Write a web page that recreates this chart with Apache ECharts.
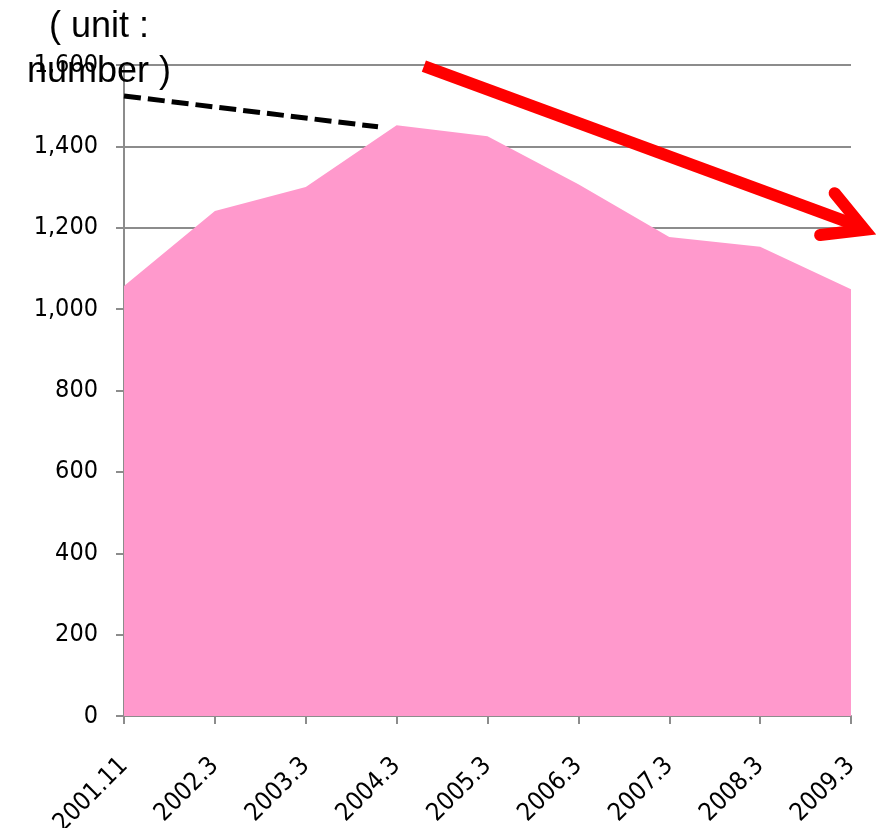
<!DOCTYPE html>
<html><head><meta charset="utf-8">
<script src="https://cdn.jsdelivr.net/npm/echarts@6/dist/echarts.min.js"></script>
<style>html,body{margin:0;padding:0;background:#fff}#c{width:879px;height:828px}</style>
</head><body><div id="c"></div>
<script>
const categories = ['2001.11','2002.3','2003.3','2004.3','2005.3','2006.3','2007.3','2008.3','2009.3'];
const counts = [1057, 1241, 1300, 1452, 1425, 1307, 1177, 1153, 1049];
const yTicks = {min: 0, max: 1600, interval: 200};
const unitLabel = '( unit :\nnumber )';
// annotation lines: [position along category axis (0..8), value]
const dashedTrend = [[0, 1524], [2.795, 1448]];
const arrowShaft = [[3.30, 1597], [8.10, 1203]];
const arrowHead = [[7.82, 1285], [8.15, 1195], [7.66, 1182]];

const tickFont = '"DejaVu Sans Condensed", "DejaVu Sans", sans-serif';
const chart = echarts.init(document.getElementById('c'));
chart.setOption({
  animation: false,
  title: {
    text: unitLabel, left: 94, top: 0, textAlign: 'center',
    textStyle: {fontFamily: '"Liberation Sans", Arial, sans-serif', fontSize: 36, lineHeight: 45, fontWeight: 'normal', color: '#000'}
  },
  grid: {left: 124, right: 28, top: 65, bottom: 112, containLabel: false, outerBoundsMode: 'none'},
  xAxis: [{
    type: 'category', data: categories, boundaryGap: false,
    axisLine: {lineStyle: {color: '#8c8c8c', width: 2}},
    axisTick: {show: true, length: 8, lineStyle: {color: '#8c8c8c', width: 2}},
    axisLabel: {rotate: 45, fontFamily: tickFont, fontSize: 25, color: '#000', margin: 46, interval: 0},
    splitLine: {show: false}
  }, {
    type: 'value', min: 0, max: 8, show: false
  }],
  yAxis: {
    type: 'value', min: yTicks.min, max: yTicks.max, interval: yTicks.interval,
    axisLine: {show: true, lineStyle: {color: '#8c8c8c', width: 2}},
    axisTick: {show: true, length: 8, lineStyle: {color: '#8c8c8c', width: 2}},
    axisLabel: {fontFamily: tickFont, fontSize: 25, color: '#000', margin: 26,
      formatter: v => v.toLocaleString('en-US')},
    splitLine: {show: true, lineStyle: {color: '#8c8c8c', width: 2}}
  },
  series: [{
    type: 'line', data: counts, symbol: 'none',
    lineStyle: {width: 0, color: '#FF99CC'},
    areaStyle: {color: '#FF99CC', opacity: 1}, z: 2
  }]
});

function toPx(pts) {
  return pts.map(p => chart.convertToPixel({xAxisIndex: 1, yAxisIndex: 0}, p));
}
chart.setOption({
  graphic: [{
    type: 'polyline', z: 10, shape: {points: toPx(dashedTrend)},
    style: {stroke: '#000', lineWidth: 5, lineDash: [17, 7], fill: null}
  }, {
    type: 'polyline', z: 10, shape: {points: toPx(arrowShaft)},
    style: {stroke: '#ff0000', lineWidth: 12, lineCap: 'butt', fill: null}
  }, {
    type: 'polyline', z: 10, shape: {points: toPx(arrowHead)},
    style: {stroke: '#ff0000', lineWidth: 12, lineCap: 'round', lineJoin: 'miter', fill: null}
  }]
});
</script></body></html>
